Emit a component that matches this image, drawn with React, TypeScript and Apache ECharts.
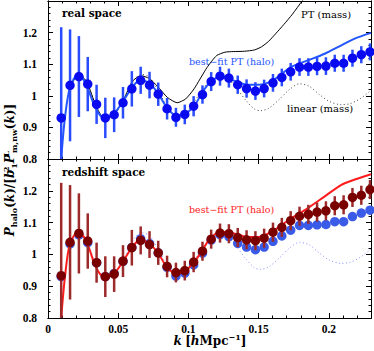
import React, { useEffect, useRef } from "react";
import * as echarts from "echarts";

// ---- data ----
const K = [
  0.0094, 0.0157, 0.022, 0.0283, 0.0346, 0.0408, 0.0471, 0.0534, 0.0597, 0.066, 0.0723, 0.0785,
  0.0848, 0.0911, 0.0974, 0.1037, 0.11, 0.1162, 0.1225, 0.1288, 0.1351, 0.1414, 0.1477, 0.1539,
  0.1602, 0.1665, 0.1728, 0.1791, 0.1854, 0.1916, 0.1979, 0.2042, 0.2105, 0.2168, 0.2231, 0.2293,
];
const REAL = [
  0.93, 1.033, 1.061, 1.037, 0.973, 0.93, 0.94, 0.978, 1.022, 1.049, 1.034, 1.005, 0.959, 0.932,
  0.941, 0.967, 1.004, 1.045, 1.062, 1.056, 1.035, 1.023, 1.015, 1.023, 1.041, 1.058, 1.076, 1.091,
  1.091, 1.093, 1.094, 1.103, 1.103, 1.119, 1.13, 1.139,
];
const REAL_ERR = [
  0.287, 0.177, 0.128, 0.086, 0.062, 0.064, 0.055, 0.05, 0.056, 0.043, 0.042, 0.037, 0.034, 0.03,
  0.031, 0.032, 0.029, 0.03, 0.03, 0.03, 0.029, 0.029, 0.028, 0.028, 0.028, 0.028, 0.028, 0.028,
  0.028, 0.028, 0.028, 0.027, 0.027, 0.027, 0.027, 0.027,
];
const RSD = [
  0.933, 1.038, 1.066, 1.042, 0.974, 0.93, 0.938, 0.979, 1.021, 1.044, 1.031, 1.005, 0.962, 0.943,
  0.949, 0.976, 1.01, 1.048, 1.067, 1.065, 1.053, 1.046, 1.043, 1.051, 1.07, 1.085, 1.106, 1.12,
  1.126, 1.133, 1.137, 1.153, 1.156, 1.179, 1.186, 1.204,
];
const RSD_ERR = [
  0.292, 0.18, 0.126, 0.087, 0.063, 0.064, 0.056, 0.05, 0.056, 0.044, 0.042, 0.038, 0.034, 0.031,
  0.031, 0.032, 0.03, 0.03, 0.03, 0.03, 0.03, 0.03, 0.03, 0.03, 0.03, 0.03, 0.03, 0.03, 0.03, 0.03,
  0.03, 0.03, 0.03, 0.03, 0.03, 0.03,
];
const FIT_REAL: [number, number][] = [
  [0.0094, 0.8], [0.0121, 0.932], [0.0157, 1.027], [0.0217, 1.07], [0.0274, 1.033], [0.0336, 0.964],
  [0.0395, 0.93], [0.0467, 0.943], [0.0538, 0.985], [0.061, 1.033], [0.066, 1.049], [0.0726, 1.038],
  [0.0786, 1.006], [0.0845, 0.964], [0.0912, 0.938], [0.0976, 0.943], [0.1043, 0.969], [0.11, 1.012],
  [0.1155, 1.043], [0.1229, 1.061], [0.1324, 1.048], [0.1419, 1.035], [0.15, 1.035], [0.1598, 1.048],
  [0.173, 1.091], [0.185, 1.112], [0.197, 1.133], [0.2086, 1.159], [0.218, 1.18], [0.23, 1.199],
];
const FIT_RSD: [number, number][] = [
  [0.0094, 0.8], [0.0121, 0.93], [0.0157, 1.035], [0.0217, 1.071], [0.0274, 1.04], [0.034, 0.961],
  [0.0395, 0.93], [0.0467, 0.938], [0.054, 0.982], [0.061, 1.029], [0.066, 1.045], [0.0726, 1.032],
  [0.0786, 1.003], [0.0845, 0.961], [0.0912, 0.94], [0.0976, 0.948], [0.1043, 0.977], [0.11, 1.014],
  [0.1155, 1.05], [0.1229, 1.071], [0.1324, 1.066], [0.1419, 1.055], [0.15, 1.055], [0.161, 1.076],
  [0.173, 1.113], [0.1848, 1.145], [0.1966, 1.181], [0.2086, 1.218], [0.2155, 1.231], [0.23, 1.252],
];
const PT_MASS: [number, number][] = [
  [0.016, 1.03], [0.022, 1.07], [0.028, 1.04], [0.034, 0.97], [0.04, 0.928], [0.047, 0.94],
  [0.054, 0.99], [0.06, 1.045], [0.066, 1.064], [0.072, 1.055], [0.078, 1.03], [0.085, 0.995],
  [0.092, 0.978], [0.098, 0.99], [0.104, 1.022], [0.1133, 1.09], [0.12, 1.127], [0.126, 1.138],
  [0.132, 1.14], [0.14, 1.141], [0.147, 1.145], [0.152, 1.155], [0.157, 1.172], [0.162, 1.196],
  [0.168, 1.226], [0.174, 1.258], [0.181, 1.3], [0.19, 1.35],
];
const LINEAR: [number, number][] = [
  [0.016, 1.03], [0.022, 1.072], [0.028, 1.04], [0.034, 0.968], [0.04, 0.925], [0.047, 0.938],
  [0.054, 0.985], [0.06, 1.04], [0.066, 1.068], [0.072, 1.06], [0.078, 1.02], [0.085, 0.965],
  [0.092, 0.935], [0.098, 0.945], [0.104, 0.98], [0.11, 1.02], [0.116, 1.05], [0.123, 1.06],
  [0.129, 1.05], [0.135, 1.02], [0.141, 0.985], [0.147, 0.958], [0.151, 0.953], [0.157, 0.96],
  [0.165, 0.99], [0.172, 1.02], [0.179, 1.038], [0.186, 1.03], [0.193, 1.005], [0.2, 0.983],
  [0.2086, 0.972], [0.215, 0.975], [0.222, 0.99], [0.23, 1.017],
];
const X_TICKS = { min: 0, max: 0.23, major: 0.05, minor: 0.01 };
const Y_TICKS = { min: 0.8, max: 1.3, major: 0.1, minor: 0.02 };

const FONT = "DejaVu Serif";
const TICK_FONT = "Liberation Serif";
const YMIN = Y_TICKS.min;
const YMAX = Y_TICKS.max;

function xAxes(gridIndex: number, labels: boolean) {
  const base = {
    type: "value" as const,
    gridIndex,
    min: X_TICKS.min,
    max: X_TICKS.max,
    splitLine: { show: false },
    axisLine: { show: true, onZero: false, lineStyle: { color: "#000", width: 1 } },
  };
  const mk = (pos: string, major: boolean, lab: boolean) => ({
    ...base,
    position: pos,
    interval: major ? X_TICKS.major : X_TICKS.minor,
    axisTick: { show: true, inside: true, length: major ? 5 : 2.5, lineStyle: { color: "#000", width: 1 } },
    axisLabel: {
      show: lab,
      color: "#000",
      fontFamily: TICK_FONT,
      fontSize: 11.5,
      fontWeight: "bold",
      margin: 5,
      showMaxLabel: false,
      formatter: (v: number) => String(Math.round(v * 100) / 100),
    },
  });
  return [mk("bottom", true, labels), mk("bottom", false, false), mk("top", true, false), mk("top", false, false)];
}

function yAxes(gridIndex: number) {
  const base = {
    type: "value" as const,
    gridIndex,
    min: YMIN,
    max: YMAX,
    splitLine: { show: false },
    axisLine: { show: true, onZero: false, lineStyle: { color: "#000", width: 1 } },
  };
  const mk = (pos: string, major: boolean, lab: boolean) => ({
    ...base,
    position: pos,
    interval: major ? Y_TICKS.major : Y_TICKS.minor,
    axisTick: { show: true, inside: true, length: major ? 5 : 2.5, lineStyle: { color: "#000", width: 1 } },
    axisLabel: {
      show: lab,
      color: "#000",
      fontFamily: TICK_FONT,
      fontSize: 11.5,
      fontWeight: "bold",
      margin: 11,
      showMaxLabel: false,
      formatter: (v: number) => String(Math.round(v * 10) / 10),
    },
  });
  return [mk("left", true, true), mk("left", false, false), mk("right", true, false), mk("right", false, false)];
}

function errBars(xi: number, yi: number, vals: number[], errs: number[], color: string, z: number) {
  return {
    type: "custom",
    xAxisIndex: xi,
    yAxisIndex: yi,
    z,
    silent: true,
    data: K.map((k, i) => [k, vals[i] - errs[i], vals[i] + errs[i]]),
    encode: { x: 0, y: [1, 2] },
    renderItem: (_p: any, api: any) => {
      const k = api.value(0);
      const lo = Math.max(api.value(1), YMIN);
      const hi = Math.min(api.value(2), YMAX);
      const a = api.coord([k, lo]);
      const b = api.coord([k, hi]);
      return {
        type: "line",
        shape: { x1: a[0], y1: a[1], x2: b[0], y2: b[1] },
        style: { stroke: color, lineWidth: 2.5 },
      };
    },
  };
}

function lineSeries(xi: number, yi: number, data: [number, number][], color: string, width: number, type: any, z: number, smooth = 0.3) {
  return {
    type: "line",
    xAxisIndex: xi,
    yAxisIndex: yi,
    data,
    smooth,
    symbol: "none",
    showSymbol: false,
    clip: true,
    z,
    silent: true,
    lineStyle: { color, width, type },
  };
}

function scatter(xi: number, yi: number, vals: number[], color: string, z: number) {
  return {
    type: "scatter",
    xAxisIndex: xi,
    yAxisIndex: yi,
    data: K.map((k, i) => [k, vals[i]]),
    symbol: "circle",
    symbolSize: 9.5,
    z,
    silent: true,
    itemStyle: { color, opacity: 1 },
  };
}

const rich = {
  n: { fontFamily: FONT, fontSize: 12, fontWeight: "bold", lineHeight: 16, color: "#000" },
  it: { fontFamily: FONT, fontSize: 12, fontWeight: "bold", fontStyle: "italic", lineHeight: 16, color: "#000" },
  sub: { fontFamily: FONT, fontSize: 8, fontWeight: "bold", lineHeight: 8, verticalAlign: "bottom", color: "#000" },
  sup: { fontFamily: FONT, fontSize: 8, fontWeight: "bold", lineHeight: 8, verticalAlign: "top", color: "#000" },
  supz: { fontFamily: FONT, fontSize: 8, fontWeight: "bold", lineHeight: 8, verticalAlign: "top", color: "#000", width: 1 },
};

export default function App() {
  const ref = useRef<HTMLDivElement>(null);
  useEffect(() => {
    document.body.style.margin = "0";
    const chart = echarts.init(ref.current!, null, { renderer: "svg" });
    const txt = (x: number, y: number, text: string, size: number, fill: string, bold = false) => ({
      type: "text",
      x,
      y,
      style: {
        text, fontFamily: FONT, fontSize: size, fontWeight: bold ? "bold" : "normal", fill,
        align: "left", verticalAlign: "middle", textAlign: "left", textVerticalAlign: "middle",
      },
    });
    const option: any = {
      animation: false,
      backgroundColor: "#fff",
      grid: [
        { left: 48, top: 1, width: 323, height: 158 },
        { left: 48, top: 159, width: 323, height: 159 },
      ],
      xAxis: [...xAxes(0, false), ...xAxes(1, true)],
      yAxis: [...yAxes(0), ...yAxes(1)],
      series: [
        // top panel (real space)
        lineSeries(0, 0, LINEAR, "#444", 1, [1, 2.5], 1),
        lineSeries(0, 0, PT_MASS, "#000", 1, "solid", 2, 0.2),
        lineSeries(0, 0, FIT_REAL, "#2456ff", 2, "solid", 3),
        errBars(0, 0, REAL, REAL_ERR, "#2a4cff", 4),
        scatter(0, 0, REAL, "#0a0af0", 5),
        // bottom panel (redshift space)
        lineSeries(4, 4, LINEAR, "#8a90ff", 1, [1, 2.5], 1),
        scatter(4, 4, REAL, "#3a5be8", 2),
        lineSeries(4, 4, FIT_RSD, "#ff1c1c", 2, "solid", 3),
        errBars(4, 4, RSD, RSD_ERR, "#9c2a2a", 4),
        scatter(4, 4, RSD, "#7a0000", 5),
      ],
      graphic: [
        txt(62, 13, "real space", 10.5, "#000", true),
        txt(62, 172, "redshift space", 10.5, "#000", true),
        txt(301, 14, "PT (mass)", 10, "#000"),
        txt(189, 61, "best\u2212fit PT (halo)", 9.5, "#2456ff"),
        txt(287, 108, "linear (mass)", 10, "#000"),
        txt(189, 209, "best\u2212fit PT (halo)", 9.5, "#ff1c1c"),
        {
          type: "text", x: 10, y: 170, rotation: Math.PI / 2,
          style: {
            text: "{it|P}{sub|halo}{n|(}{it|k}{n|)/[}{it|b}{supz|2}{sub|1}{it|P}{supz|L}{sub|m,nw}{n|(}{it|k}{n|)]}",
            rich, align: "center", verticalAlign: "middle", textAlign: "center", textVerticalAlign: "middle",
          },
        },
        {
          type: "text", x: 210, y: 341,
          style: {
            text: "{it|k} {n|[}{it|h}{n|Mpc}{sup|\u22121}{n|]}",
            rich, align: "center", verticalAlign: "middle", textAlign: "center", textVerticalAlign: "middle",
          },
        },
      ],
    };
    chart.setOption(option);
    return () => chart.dispose();
  }, []);
  return <div ref={ref} style={{ width: 374, height: 351, background: "#fff" }} />;
}
